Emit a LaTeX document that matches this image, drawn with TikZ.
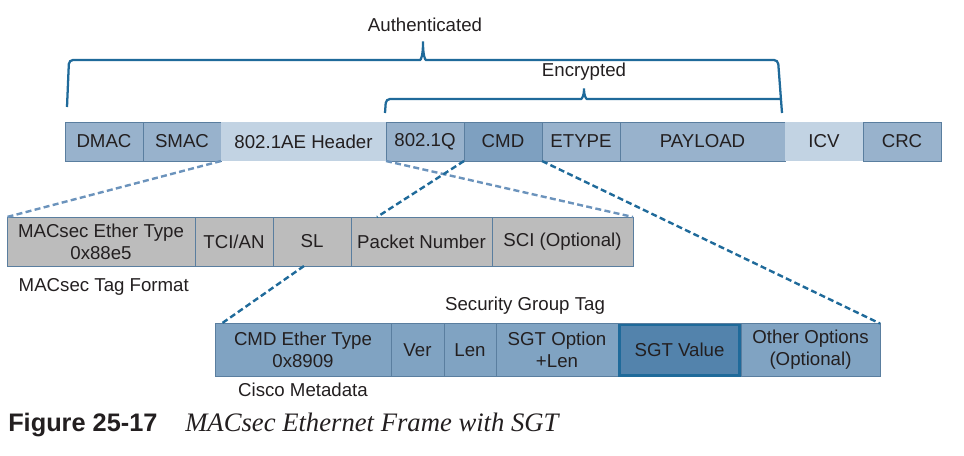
\documentclass[tikz,border=0pt]{standalone}
\usepackage{fontspec}
\setmainfont{Liberation Sans}
\newfontfamily\capserif{Liberation Serif}
\usetikzlibrary{positioning,calc}
\definecolor{frameblue}{HTML}{98B2CC}
\definecolor{framelight}{HTML}{C2D3E3}
\definecolor{cmdblue}{HTML}{7EA0C0}
\definecolor{edgeblue}{HTML}{5A7E9F}
\definecolor{bracecol}{HTML}{1F6A9A}
\definecolor{dashlight}{HTML}{6B93BC}
\definecolor{taggray}{HTML}{BCBCBC}
\definecolor{metablue}{HTML}{80A3C2}
\definecolor{sgtblue}{HTML}{5383AC}
\definecolor{inkgray}{HTML}{231F20}
\tikzstyle{field} = [draw=edgeblue, fill=frameblue, rectangle, text centered, align=center, inner sep=0pt, outer sep=0pt, minimum height=29.25pt, minimum width=58.5pt]
\tikzstyle{lightfield} = [field, draw=none, fill=framelight]
\tikzstyle{tagfield} = [field, fill=taggray, minimum height=36.75pt]
\tikzstyle{metafield} = [field, fill=metablue, minimum height=39.75pt]
\tikzstyle{brace} = [draw=bracecol, line width=1.7pt, rounded corners=3pt]
\tikzstyle{zoomline} = [draw=dashlight, line width=1.8pt, dash pattern=on 4.5pt off 2.5pt]
\tikzstyle{zoomdark} = [zoomline, draw=bracecol]

\begin{document}
\begin{tikzpicture}[x=0.75pt, y=-0.75pt, node distance=0pt, text=inkgray, font=\fontsize{14}{16.5}\selectfont]
        \useasboundingbox (0,0) rectangle (964,455);
        % frame
        \node[field, anchor=west] (dmac) at (65,141.5) {DMAC};
        \node[field, right=of dmac] (smac) {SMAC};
        \node[lightfield, right=of smac, minimum width=123.75pt] (hdr) {802.1AE Header};
        \node[field, right=of hdr] (dotq) {802.1Q};
        \node[field, fill=cmdblue, right=of dotq] (cmd) {CMD};
        \node[field, right=of cmd] (etype) {ETYPE};
        \node[field, right=of etype, minimum width=123.75pt] (payload) {PAYLOAD};
        \node[lightfield, right=of payload] (icv) {ICV};
        \node[field, right=of icv] (crc) {CRC};
        % macsec tag
        \node[tagfield, anchor=west, minimum width=141pt] (ethtype) at (7,241.5) {MACsec Ether Type\\0x88e5};
        \node[tagfield, right=of ethtype] (tci) {TCI/AN};
        \node[tagfield, right=of tci] (sl) {SL};
        \node[tagfield, right=of sl, minimum width=105.75pt] (pn) {Packet Number};
        \node[tagfield, right=of pn, minimum width=105.75pt] (sci) {SCI (Optional)};
        % cisco metadata
        \node[metafield, anchor=west, minimum width=132pt] (cmdet) at (215,350) {CMD Ether Type\\0x8909};
        \node[metafield, right=of cmdet, minimum width=39.75pt] (ver) {Ver};
        \node[metafield, right=of ver, minimum width=39pt] (len) {Len};
        \node[metafield, right=of len, minimum width=91.5pt] (sgtopt) {SGT Option\\+Len};
        \node[metafield, right=of sgtopt, minimum width=92.25pt, fill=sgtblue] (sgtval) {SGT Value};
        \node[metafield, right=of sgtval, minimum width=104.25pt] (other) {Other Options\\(Optional)};
        \draw[bracecol, line width=2pt] ([shift={(1pt,-1pt)}]sgtval.north west) rectangle ([shift={(-1pt,1pt)}]sgtval.south east);
        % labels
        \node (authlbl) at (425,25) {Authenticated};
        \node (enclbl) at (584,72) {Encrypted};
        \node[anchor=west] (taglbl) at (14,287) {MACsec Tag Format};
        \node (sgtlbl) at (525,306) {Security Group Tag};
        \node (metalbl) at (303,390) {Cisco Metadata};
        \node[anchor=base west, inner sep=0pt, font=\fontsize{19}{22}\selectfont\bfseries] (fignum) at (8,431) {Figure 25-17};
        \node[anchor=base west, inner sep=0pt, font=\fontsize{20}{22}\selectfont\capserif\itshape] (figtitle) at (185,431) {MACsec Ethernet Frame with SGT};
        % braces
        \draw[brace] (67,107) -- (69,60) -- (416,60) .. controls (421,60) and (423,55) .. (423,39) .. controls (423,55) and (425,60) .. (430,60) -- (778,60) -- (782,113);
        \draw[brace] (385,113) -- (386,99) -- (577,99) .. controls (582,99) and (584,95) .. (584,86) .. controls (584,95) and (586,99) .. (591,99) -- (780,99);
        % zoom lines
        \draw[zoomline] (hdr.south west) -- (ethtype.north west);
        \draw[zoomline] (hdr.south east) -- (sci.north east);
        \draw[zoomdark] (cmd.south west) -- ([xshift=19.5pt]pn.north west);
        \draw[zoomdark] (cmd.south east) -- (other.north east);
        \draw[zoomdark] ([xshift=-6pt]sl.south) -- ([xshift=5pt]cmdet.north west);
\end{tikzpicture}
\end{document}
